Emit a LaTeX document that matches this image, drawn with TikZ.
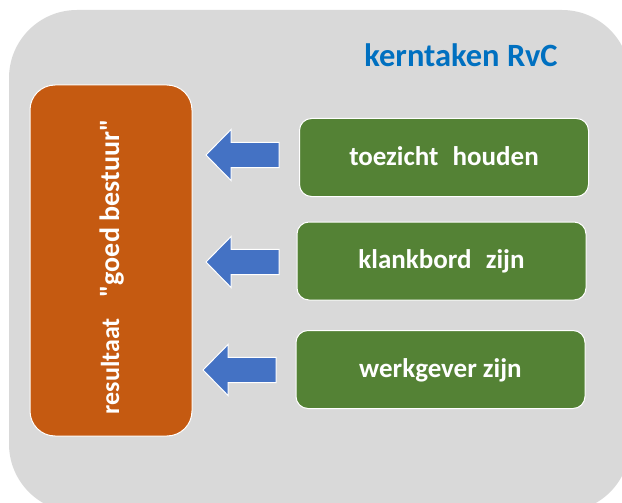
\documentclass[tikz,border=0pt]{standalone}
\usepackage{fontspec}
\setmainfont{Carlito}[Ligatures=TeXOff]
\definecolor{bggray}{HTML}{D9D9D9}
\definecolor{orangebox}{HTML}{C55A11}
\definecolor{greenbox}{HTML}{548235}
\definecolor{arrowblue}{HTML}{4472C4}
\definecolor{titleblue}{HTML}{0070C0}
\tikzset{
  resultbox/.style={draw=white, line width=1pt, fill=orangebox, rounded corners=25pt,
    minimum width=162pt, minimum height=351pt, inner sep=0pt},
  taskbox/.style={draw=white, line width=1pt, fill=greenbox, rounded corners=12pt,
    minimum width=289pt, minimum height=78pt, inner sep=0pt,
    text height=15pt, text depth=0pt,
    text=white, font=\bfseries\fontsize{27pt}{31pt}\selectfont},
  blockarrowstyle/.style={draw=white, line width=1pt, fill=arrowblue, line join=miter},
  barrow/.pic={
    \path[blockarrowstyle] (0,0) -- (25,-25.5) -- (25,-12.7) -- (73,-12.7) -- (73,12.7)
      -- (25,12.7) -- (25,25.5) -- cycle;
  }
}
\begin{document}
\begin{tikzpicture}[x=1pt,y=-1pt]
\useasboundingbox (0,0) rectangle (622,503);
\begin{scope}
\clip (0,0) rectangle (622,503);
\fill[bggray, rounded corners=68pt] (9,10) rectangle (630,512);
\end{scope}
\node[text=titleblue, font=\bfseries\fontsize{32.5pt}{36pt}\selectfont, anchor=base] (title) at (461,66.5) {kerntaken RvC};
\node[resultbox] (result) at (111,260.5) {};
\node[text=white, font=\bfseries, rotate=90, anchor=base, inner sep=0pt] (resulttext) at (119,267) {{\fontsize{26pt}{30pt}\selectfont resultaat}\hspace{21pt}{\fontsize{28pt}{32pt}\selectfont "goed bestuur"}};
\node[taskbox] (t1) at (444,157.5) {toezicht\hspace{0.3em} houden};
\node[taskbox] (t2) at (441.5,261) {klankbord\hspace{0.3em} zijn};
\node[taskbox] (t3) at (440.5,369.5) {werkgever zijn};
\pic at (206,155) {barrow};
\pic at (206,262) {barrow};
\pic at (203,370) {barrow};
\end{tikzpicture}
\end{document}
